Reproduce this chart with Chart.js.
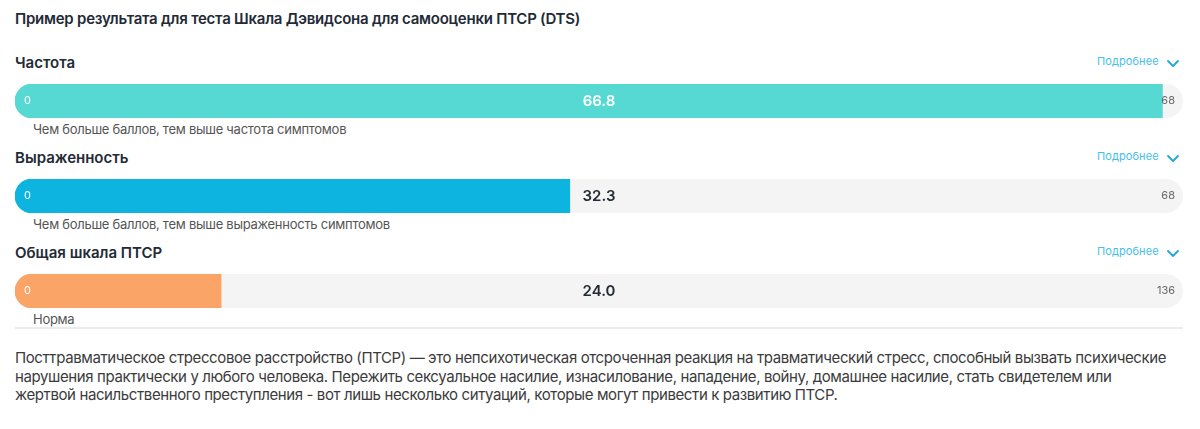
<!DOCTYPE html>
<html lang="ru">
<head>
<meta charset="utf-8">
<script src="https://cdn.jsdelivr.net/npm/chart.js@4"></script>
<style>
  body { margin: 0; background: #fff; font-family: Inter, "Open Sans", sans-serif; color: #222a36; }
  .abs { position: absolute; white-space: nowrap; }
  .title { left: 15px; top: 9px; line-height: 20px; font-size: 15px; font-weight: 600; letter-spacing: -0.24px; }
  .head { left: 15px; line-height: 20px; font-size: 15px; font-weight: 600; }
  .more { left: 1097px; line-height: 16px; font-size: 11px; letter-spacing: 0.1px; color: #45c0ea; }
  .chev { position: absolute; left: 1166px; }
  .track { position: absolute; left: 15px; width: 1168px; height: 34px; background: #f4f4f4; border-radius: 17px; }
  .note { left: 33px; line-height: 16px; font-size: 13px; letter-spacing: -0.27px; color: #555; }
  .sep { position: absolute; left: 15px; top: 327px; width: 1168px; height: 2px; background: #ececec; }
  .para { left: 15px; top: 349px; line-height: 18.5px; font-size: 15px; letter-spacing: -0.39px; color: #3b3b3b; }
</style>
</head>
<body>
<div class="abs title">Пример результата для теста Шкала Дэвидсона для самооценки ПТСР (DTS)</div>
<div id="rows"></div>
<div class="sep"></div>
<div class="abs para">Посттравматическое стрессовое расстройство (ПТСР) — это непсихотическая отсроченная реакция на травматический стресс, способный вызвать психические<br>нарушения практически у любого человека. Пережить сексуальное насилие, изнасилование, нападение, войну, домашнее насилие, стать свидетелем или<br>жертвой насильственного преступления - вот лишь несколько ситуаций, которые могут привести к развитию ПТСР.</div>
<script>
// Данные шкал
const scaleNames = ['Частота', 'Выраженность', 'Общая шкала ПТСР'];
const scores = [66.8, 32.3, 24.0];
const maxScores = [68, 68, 136];
const notes = ['Чем больше баллов, тем выше частота симптомов', 'Чем больше баллов, тем выше выраженность симптомов', 'Норма'];

const barColors = ['#55d9d2', '#0db4df', '#fba467'];
const valueColors = ['#ffffff', '#222a36', '#222a36'];

const rows = document.getElementById('rows');

// Подписи 0 / значение / максимум
const labelsPlugin = {
  id: 'barLabels',
  afterDatasetsDraw(chart, args, opts) {
    const { ctx, chartArea, scales } = chart;
    const y = (chartArea.top + chartArea.bottom) / 2;
    ctx.save();
    ctx.textBaseline = 'middle';
    ctx.font = '11px Inter, sans-serif';
    ctx.fillStyle = '#ffffff';
    ctx.textAlign = 'left';
    ctx.fillText('0', scales.x.getPixelForValue(0) + 9, y);
    ctx.fillStyle = '#666';
    ctx.textAlign = 'right';
    ctx.fillText(String(opts.max), scales.x.getPixelForValue(opts.max) - 8, y);
    ctx.font = '600 15px Inter, sans-serif';
    ctx.fillStyle = opts.valueColor;
    ctx.textAlign = 'center';
    ctx.fillText(opts.value.toFixed(1), (chartArea.left + chartArea.right) / 2, y);
    ctx.restore();
  }
};

scaleNames.forEach((name, i) => {
  const top = 84 + i * 95;
  rows.insertAdjacentHTML('beforeend', `
    <div class="abs head" style="top:${top - 31}px">${name}</div>
    <div class="abs more" style="top:${top - 31}px">Подробнее</div>
    <svg class="chev" style="top:${top - 25}px" width="14" height="10" viewBox="0 0 14 10">
      <polyline points="2,2 7,7 12,2" fill="none" stroke="#1ea7da" stroke-width="1.8" stroke-linecap="round" stroke-linejoin="round"/>
    </svg>
    <div class="track" style="top:${top}px"><canvas id="bar${i}"></canvas></div>
    <div class="abs note" style="top:${top + 37}px">${notes[i]}</div>
  `);
});

scaleNames.forEach((name, i) => {
  new Chart(document.getElementById('bar' + i), {
    type: 'bar',
    data: {
      labels: [name],
      datasets: [{
        data: [scores[i]],
        backgroundColor: barColors[i],
        borderSkipped: false,
        borderRadius: { topLeft: 17, bottomLeft: 17, topRight: 0, bottomRight: 0 },
        barPercentage: 1,
        categoryPercentage: 1
      }]
    },
    options: {
      indexAxis: 'y',
      responsive: true,
      maintainAspectRatio: false,
      animation: false,
      layout: { padding: 0 },
      scales: {
        x: { min: 0, max: maxScores[i], display: false },
        y: { display: false }
      },
      plugins: {
        legend: { display: false },
        tooltip: { enabled: false },
        barLabels: { value: scores[i], max: maxScores[i], valueColor: valueColors[i] }
      }
    },
    plugins: [labelsPlugin]
  });
});
</script>
</body>
</html>
